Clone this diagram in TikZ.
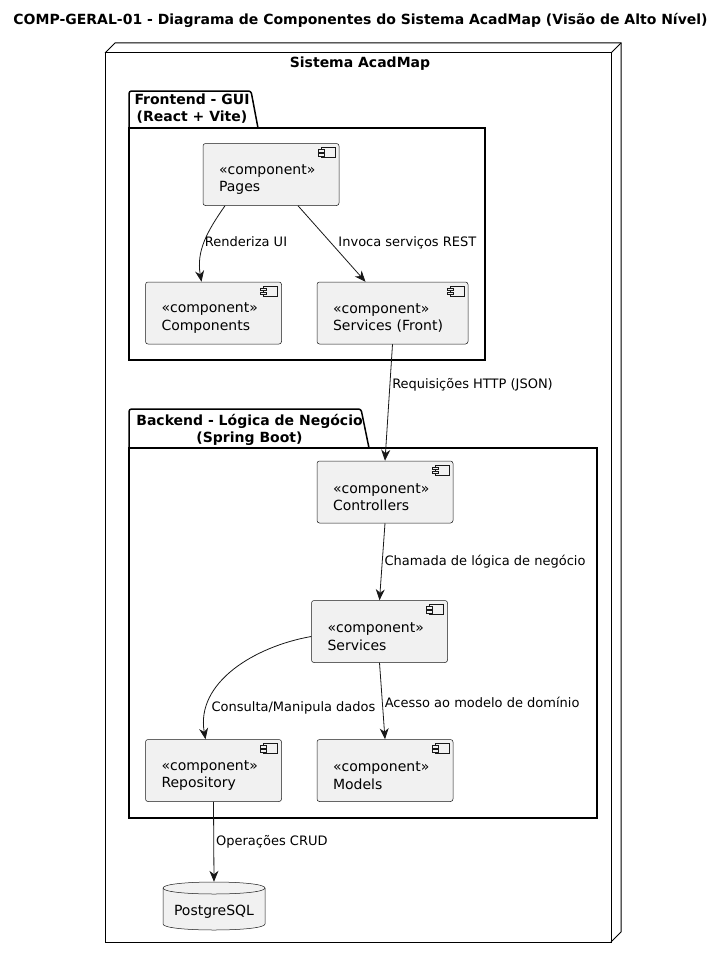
\documentclass[tikz,border=0pt]{standalone}
\usepackage{fontspec}
\setmainfont{DejaVu Sans}
\usetikzlibrary{arrows.meta}

\definecolor{compfill}{HTML}{F1F1F1}
\definecolor{edgecol}{HTML}{181818}

\tikzset{
    comp/.style={draw=edgecol, fill=compfill, line width=0.5pt, rounded corners=2.5pt,
        minimum height=62pt, inner xsep=16pt, inner ysep=2pt, text width=#1, align=left,
        font=\fontsize{14}{17.5}\selectfont,
        execute at begin node={\rule{0pt}{20pt}},
        path picture={
            \draw[edgecol, fill=compfill, line width=0.5pt, sharp corners]
                ([shift={(-18,4)}]path picture bounding box.north east) rectangle
                ([shift={(-4,14)}]path picture bounding box.north east);
            \draw[edgecol, fill=compfill, line width=0.5pt, sharp corners]
                ([shift={(-21,6)}]path picture bounding box.north east) rectangle
                ([shift={(-15,8.5)}]path picture bounding box.north east);
            \draw[edgecol, fill=compfill, line width=0.5pt, sharp corners]
                ([shift={(-21,10)}]path picture bounding box.north east) rectangle
                ([shift={(-15,12.5)}]path picture bounding box.north east);
        }},
    comp/.default=104pt,
    link/.style={draw=edgecol, line width=0.8pt, -{Stealth[length=11pt,width=9pt,inset=3.5pt]}},
    lbl/.style={font=\fontsize{13}{15}\selectfont, text=black, inner sep=2pt},
    pkg/.style={draw=black, line width=1.5pt},
    boldtxt/.style={font=\bfseries\fontsize{14}{17}\selectfont, align=center, inner sep=0pt}
}

\begin{document}
\begin{tikzpicture}[x=1pt, y=-1pt]
    \useasboundingbox (0,0) rectangle (721,958);

    % Title
    \node[boldtxt] (title) at (360.5,20) {COMP-GERAL-01 - Diagrama de Componentes do Sistema AcadMap (Visão de Alto Nível)};

    % System node (3D box)
    \draw[line width=1pt] (105,53) rectangle (611,942);
    \draw[line width=1pt] (105,53) -- (115,43) -- (621,43) -- (621,932) -- (611,942);
    \draw[line width=1pt] (611,53) -- (621,43);
    \node[boldtxt] (systitle) at (360,64) {Sistema AcadMap};

    % Frontend package
    \draw[pkg] (129,128) rectangle (485,360);
    \draw[pkg, rounded corners=2.5pt] (129,128) -- (129,91) -- (251,91) -- (258,128);
    \node[boldtxt] (fronttitle) at (192,108.5) {Frontend - GUI\\(React + Vite)};

    % Backend package
    \draw[pkg] (129,448) rectangle (597,818);
    \draw[pkg, rounded corners=2.5pt] (129,448) -- (129,409) -- (361,409) -- (369,448);
    \node[boldtxt] (backtitle) at (249.5,429.5) {Backend - Lógica de Negócio\\(Spring Boot)};

    % Components
    \node[comp] (pages) at (271,174.5) {«component»\\Pages};
    \node[comp] (comps) at (213.5,313) {«component»\\Components};
    \node[comp=119pt] (svcfront) at (392.5,313) {«component»\\Services (Front)};
    \node[comp] (ctrl) at (385,492) {«component»\\Controllers};
    \node[comp] (svc) at (379.5,631.5) {«component»\\Services};
    \node[comp] (repo) at (213.5,770.5) {«component»\\Repository};
    \node[comp] (models) at (385,770.5) {«component»\\Models};

    % Database
    \filldraw[draw=edgecol, fill=compfill, line width=0.5pt]
        (163,888) .. controls (163,880) and (265,880) .. (265,888) -- (265,924)
        .. controls (265,932) and (163,932) .. (163,924) -- cycle;
    \draw[edgecol, line width=0.5pt] (163,888) .. controls (163,896) and (265,896) .. (265,888);
    \node[font=\fontsize{14}{17}\selectfont, minimum width=102pt, minimum height=60pt, inner sep=0pt] (db) at (214,912) {PostgreSQL};

    % Connectors
    \draw[link] ([xshift=-46pt]pages.south) to[out=-125, in=100]
        node[lbl, right, pos=.5, xshift=-2pt] {Renderiza UI} ([xshift=-12pt]comps.north);
    \draw[link] ([xshift=27pt]pages.south) --
        node[lbl, right, xshift=5pt, pos=.49] {Invoca serviços REST} ([xshift=-27pt]svcfront.north);
    \draw[link] (svcfront.south) --
        node[lbl, right, pos=.35] {Requisições HTTP (JSON)} (ctrl.north);
    \draw[link] (ctrl.south) --
        node[lbl, right, pos=.5] {Chamada de lógica de negócio} (svc.north);
    \draw[link] ([yshift=-5pt]svc.west) to[out=190, in=100]
        node[lbl, right, pos=.8, xshift=2pt] {Consulta/Manipula dados} ([xshift=-8pt]repo.north);
    \draw[link] (svc.south) --
        node[lbl, right, pos=.52] {Acesso ao modelo de domínio} (models.north);
    \draw[link] (repo.south) --
        node[lbl, right, pos=.5] {Operações CRUD} (db.north);
\end{tikzpicture}
\end{document}
